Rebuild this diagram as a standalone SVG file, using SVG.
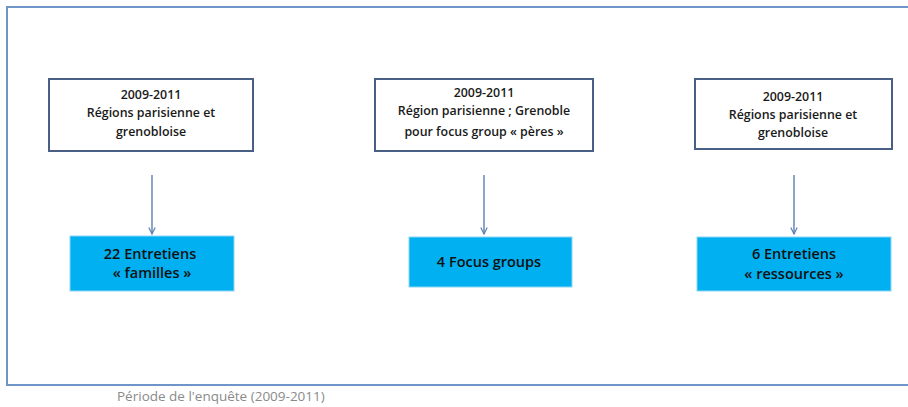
<svg xmlns="http://www.w3.org/2000/svg" width="908" height="407" viewBox="0 0 908 407">
<defs>
<style>
.frame{fill:none;stroke:#6f95c8;stroke-width:2}
.src{fill:#ffffff;stroke:#4a5f85;stroke-width:2}
.res{fill:#00b0f0;stroke:#8fd6f5;stroke-width:1}
.t1{font-family:"Open Sans","Liberation Sans",Arial,sans-serif;font-size:12.4px;font-weight:600;fill:#1a1a1a;text-anchor:middle}
.t2{font-family:"Open Sans","Liberation Sans",Arial,sans-serif;font-size:14.5px;font-weight:600;fill:#111111;text-anchor:middle}
.cap{font-family:"Open Sans","Liberation Sans",Arial,sans-serif;font-size:13.5px;fill:#8a8a8a}
.conn{stroke:#5b7fb3;stroke-width:1.4;fill:none;marker-end:url(#ah)}
</style>
<marker id="ah" viewBox="0 0 10 10" refX="9" refY="5" markerWidth="8" markerHeight="8" markerUnits="userSpaceOnUse" orient="auto">
<path d="M1,1 L9,5 L1,9" fill="none" stroke="#5b7fb3" stroke-width="1.5"/>
</marker>
</defs>
<rect class="frame" x="7" y="7" width="920" height="378"/>
<g id="connectors">
<line class="conn" x1="152" y1="175" x2="152" y2="234"/>
<line class="conn" x1="484" y1="175" x2="484" y2="234"/>
<line class="conn" x1="794" y1="175" x2="794" y2="234"/>
</g>
<g id="src1">
<rect class="src" x="49" y="79" width="204" height="72"/>
<text class="t1" x="151" y="99">2009-2011</text>
<text class="t1" x="151" y="117">Régions parisienne et</text>
<text class="t1" x="151" y="136">grenobloise</text>
</g>
<g id="src2">
<rect class="src" x="375" y="79" width="218" height="72"/>
<text class="t1" x="484" y="97">2009-2011</text>
<text class="t1" x="484" y="115">Région parisienne ; Grenoble</text>
<text class="t1" x="484" y="136">pour focus  group « pères »</text>
</g>
<g id="src3">
<rect class="src" x="695" y="79" width="197" height="70"/>
<text class="t1" x="793" y="101">2009-2011</text>
<text class="t1" x="793" y="119">Régions parisienne et</text>
<text class="t1" x="793" y="137">grenobloise</text>
</g>
<g id="res1">
<rect class="res" x="70" y="236" width="164" height="55"/>
<text class="t2" x="150" y="259">22 Entretiens</text>
<text class="t2" x="152" y="278">« familles  »</text>
</g>
<g id="res2">
<rect class="res" x="409" y="237" width="163" height="50"/>
<text class="t2" x="489" y="267">4 Focus groups</text>
</g>
<g id="res3">
<rect class="res" x="697" y="237" width="194" height="54"/>
<text class="t2" x="794" y="259">6 Entretiens</text>
<text class="t2" x="794" y="279">« ressources »</text>
</g>
<text class="cap" x="117" y="401">Période de l'enquête (2009-2011)</text>
</svg>
